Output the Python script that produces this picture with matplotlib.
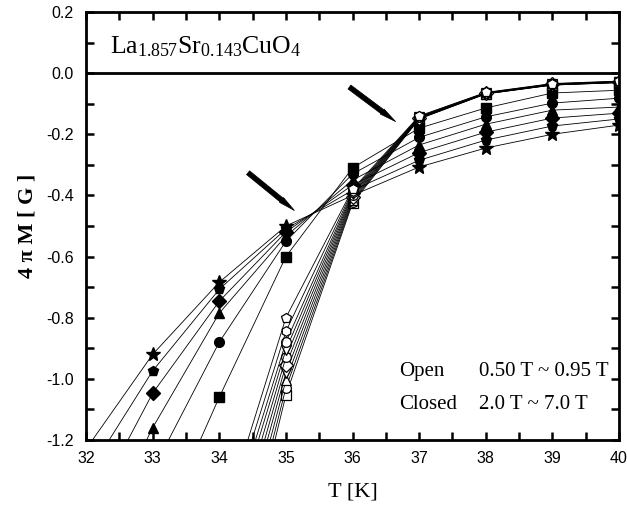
import numpy as np
import matplotlib
matplotlib.use("Agg")
import matplotlib.pyplot as plt
from matplotlib.ticker import MultipleLocator

plt.rcParams['mathtext.fontset'] = 'custom'
plt.rcParams['mathtext.rm'] = 'Liberation Serif'
plt.rcParams['mathtext.it'] = 'Liberation Serif:italic'

# --- data ---
# closed symbols: 2.0 T ... 7.0 T
T_closed = [32, 33, 34, 35, 36, 37, 38, 39, 40]
closed_fields = ['2.0 T', '3.0 T', '4.0 T', '5.0 T', '6.0 T', '7.0 T']
closed_markers = ['s', 'o', '^', 'D', 'p', '*']
M_2T = [-2.00, -1.55, -1.060, -0.600, -0.310, -0.180, -0.114, -0.065, -0.056]
M_3T = [-1.70, -1.30, -0.880, -0.550, -0.330, -0.210, -0.143, -0.098, -0.082]
M_4T = [-1.60, -1.160, -0.785, -0.533, -0.350, -0.235, -0.167, -0.121, -0.111]
M_5T = [-1.46, -1.047, -0.746, -0.520, -0.366, -0.260, -0.193, -0.147, -0.131]
M_6T = [-1.32, -0.974, -0.707, -0.510, -0.383, -0.285, -0.219, -0.173, -0.150]
M_7T = [-1.23, -0.920, -0.684, -0.500, -0.400, -0.307, -0.245, -0.200, -0.170]
closed_M = [M_2T, M_3T, M_4T, M_5T, M_6T, M_7T]

# open symbols: 0.50 T ... 0.95 T
T_open = [34, 35, 36, 37, 38, 39, 40]
open_fields = ['0.50 T', '0.55 T', '0.60 T', '0.65 T', '0.70 T',
               '0.75 T', '0.80 T', '0.85 T', '0.90 T', '0.95 T']
open_markers = ['s', 'o', '^', 'v', 'D', 'o', 'v', 'o', 'h', 'p']
M_050 = [-1.95, -1.053, -0.425, -0.150, -0.068, -0.039, -0.031]
M_055 = [-1.89, -1.030, -0.420, -0.149, -0.068, -0.039, -0.031]
M_060 = [-1.83, -1.005, -0.415, -0.148, -0.067, -0.038, -0.030]
M_065 = [-1.77, -0.980, -0.410, -0.147, -0.067, -0.038, -0.030]
M_070 = [-1.72, -0.955, -0.405, -0.146, -0.066, -0.037, -0.029]
M_075 = [-1.67, -0.930, -0.400, -0.145, -0.066, -0.037, -0.029]
M_080 = [-1.62, -0.905, -0.395, -0.144, -0.065, -0.036, -0.028]
M_085 = [-1.58, -0.880, -0.390, -0.143, -0.065, -0.036, -0.028]
M_090 = [-1.54, -0.845, -0.385, -0.142, -0.064, -0.035, -0.027]
M_095 = [-1.50, -0.800, -0.380, -0.140, -0.063, -0.034, -0.026]
open_M = [M_050, M_055, M_060, M_065, M_070, M_075, M_080, M_085, M_090, M_095]

fig = plt.figure(figsize=(6.27, 5.08), dpi=100)
ax = fig.add_axes([0.1372, 0.1339, 0.8501, 0.8425])

for M, mk in zip(closed_M, closed_markers):
    ms = 10 if mk == '*' else 7
    ax.plot(T_closed, M, color='black', lw=0.6, marker=mk, ms=ms,
            mfc='black', mec='black')

for M, mk in zip(open_M, open_markers):
    ax.plot(T_open, M, color='black', lw=0.6, marker=mk, ms=7,
            mfc='white', mec='black', mew=0.9)

ax.axhline(0.0, color='black', lw=2)

# arrows pointing at the crossing points
arrow_style = 'simple,head_length=1.2,head_width=0.45,tail_width=0.35'
ax.annotate('', xy=(35.16, -0.455), xytext=(34.40, -0.32),
            arrowprops=dict(arrowstyle=arrow_style, color='black', lw=0.5))
ax.annotate('', xy=(36.68, -0.164), xytext=(35.92, -0.04),
            arrowprops=dict(arrowstyle=arrow_style, color='black', lw=0.5))

serif = 'Liberation Serif'
ax.text(32.36, 0.088, r'La$_{1.857}$Sr$_{0.143}$CuO$_{4}$', fontsize=18.5,
        family=serif, va='center', ha='left')
ax.text(36.70, -0.975, 'Open', fontsize=15, family=serif, va='center')
ax.text(37.90, -0.975, '0.50 T ~ 0.95 T', fontsize=15, family=serif, va='center')
ax.text(36.70, -1.085, 'Closed', fontsize=15, family=serif, va='center')
ax.text(37.90, -1.085, '2.0 T ~ 7.0 T', fontsize=15, family=serif, va='center')

ax.set_xlim(32, 40)
ax.set_ylim(-1.2, 0.2)
ax.xaxis.set_major_locator(MultipleLocator(1))
ax.xaxis.set_minor_locator(MultipleLocator(0.5))
ax.yaxis.set_minor_locator(MultipleLocator(0.1))
ax.set_yticks(np.arange(-1.2, 0.21, 0.2))
ax.set_yticklabels(['-1.2', '-1.0', '-0.8', '-0.6', '-0.4', '-0.2', '0.0', '0.2'])
ax.tick_params(which='both', direction='in', top=True, right=True,
               length=6, width=1.8, labelsize=11.5)
ax.tick_params(axis='x', pad=8)
ax.tick_params(axis='y', pad=9)
for lab in ax.get_xticklabels() + ax.get_yticklabels():
    lab.set_family('Liberation Sans')
for s in ax.spines.values():
    s.set_linewidth(2)

ax.set_xlabel('T [K]', fontsize=16, family=serif, labelpad=12)
ax.set_ylabel(r'4 π M [ G ]', fontsize=16, family=serif, fontweight='bold',
              labelpad=6)

fig.savefig('out.png', dpi=100)
